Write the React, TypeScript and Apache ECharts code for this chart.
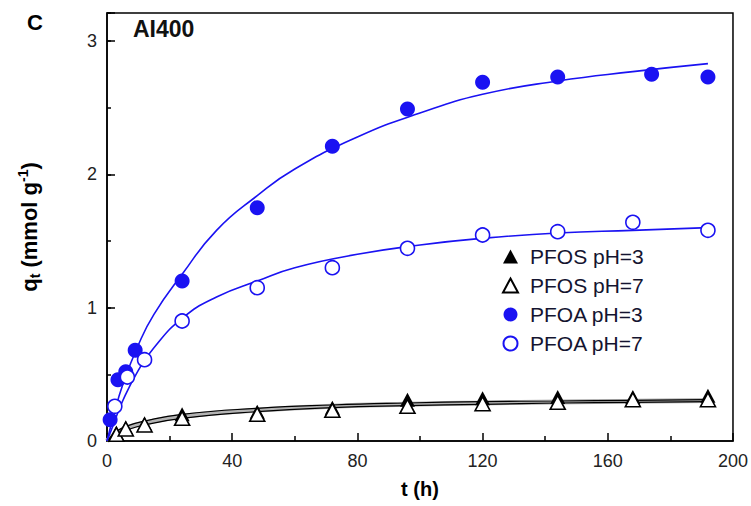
import React, { useEffect, useRef } from "react";
import * as echarts from "echarts";

// Measured points
const pfosPh3T = [3, 6, 12, 24, 48, 72, 96, 120, 144, 168, 192];
const pfosPh3Q = [0.06, 0.1, 0.13, 0.2, 0.22, 0.25, 0.31, 0.32, 0.33, 0.33, 0.34];
const pfosPh7T = [3, 6, 12, 24, 48, 72, 96, 120, 144, 168, 192];
const pfosPh7Q = [0.05, 0.09, 0.12, 0.17, 0.2, 0.23, 0.26, 0.28, 0.29, 0.31, 0.31];
const pfoaPh3T = [1, 3.5, 6, 9, 24, 48, 72, 96, 120, 144, 174, 192];
const pfoaPh3Q = [0.16, 0.46, 0.52, 0.68, 1.2, 1.75, 2.21, 2.49, 2.69, 2.73, 2.75, 2.73];
const pfoaPh7T = [2.5, 6.5, 12, 24, 48, 72, 96, 120, 144, 168, 192];
const pfoaPh7Q = [0.26, 0.48, 0.61, 0.9, 1.15, 1.3, 1.445, 1.545, 1.57, 1.64, 1.58];

// Fitted curves
const fitT = [0, 2, 5, 10, 15, 24, 35, 48, 60, 80, 100, 120, 144, 168, 192];
const fitPfoaPh3 = [0, 0.18, 0.42, 0.72, 0.95, 1.25, 1.58, 1.84, 2.04, 2.28, 2.46, 2.6, 2.7, 2.77, 2.83];
const fitPfoaPh7 = [0, 0.12, 0.3, 0.53, 0.7, 0.92, 1.08, 1.2, 1.3, 1.4, 1.47, 1.52, 1.56, 1.58, 1.6];
const fitPfosT = [0, 3, 6, 12, 24, 48, 72, 96, 120, 144, 168, 192];
const fitPfosPh3 = [0, 0.07, 0.11, 0.15, 0.2, 0.245, 0.27, 0.285, 0.295, 0.3, 0.305, 0.31];
const fitPfosPh7 = [0, 0.05, 0.08, 0.12, 0.17, 0.22, 0.25, 0.265, 0.275, 0.285, 0.29, 0.295];
const fitPfosBand = [0, 0.06, 0.095, 0.135, 0.185, 0.232, 0.26, 0.275, 0.285, 0.293, 0.298, 0.303];

const xTicks = [0, 40, 80, 120, 160, 200];
const yTicks = [0, 1, 2, 3];

const BLUE = "#1a12f2";
const FONT = "Liberation Sans, Arial, sans-serif";

const zip = (a: number[], b: number[]) => a.map((v, i) => [v, b[i]]);

export default function App() {
  const ref = useRef<HTMLDivElement>(null);
  useEffect(() => {
    document.body.style.margin = "0";
    const chart = echarts.init(ref.current!, null, { renderer: "svg" });
    const lineBase = (name: string, data: number[][], color: string, width: number, z = 2) => ({
      name,
      type: "line",
      data,
      smooth: true,
      showSymbol: false,
      symbol: "none",
      lineStyle: { color, width },
      z,
      silent: true,
    });
    const bold = { fontWeight: "bold", color: "#000", fontFamily: FONT };
    chart.setOption({
      animation: false,
      backgroundColor: "#fff",
      textStyle: { fontFamily: FONT },
      grid: {
        left: 107,
        right: 15,
        top: 13,
        bottom: 65,
        show: true,
        borderColor: "#000",
        borderWidth: 1.5,
        backgroundColor: "transparent",
      },
      legend: {
        orient: "vertical",
        left: 497,
        top: 241,
        itemGap: 8,
        itemWidth: 15,
        itemHeight: 14,
        textStyle: { fontSize: 21, color: "#141430", fontFamily: FONT, padding: [0, 0, 0, 7] },
        data: ["PFOS pH=3", "PFOS pH=7", "PFOA pH=3", "PFOA pH=7"],
      },
      graphic: [
        {
          type: "text",
          left: 27,
          top: 11,
          style: { text: "C", fontSize: 22, fontWeight: "bold", fill: "#000", fontFamily: FONT },
        },
        {
          type: "text",
          left: 133,
          top: 17,
          style: { text: "AI400", fontSize: 23, fontWeight: "bold", fill: "#111", fontFamily: FONT },
        },
      ],
      xAxis: {
        type: "value",
        min: 0,
        max: 200,
        interval: 40,
        name: "t (h)",
        nameLocation: "middle",
        nameGap: 38,
        nameTextStyle: { fontSize: 20, ...bold },
        axisLine: { lineStyle: { color: "#000", width: 1.5 } },
        axisTick: { inside: true, length: 8, lineStyle: { color: "#000", width: 1.5 } },
        minorTick: { show: true, splitNumber: 2, length: 5, lineStyle: { color: "#000", width: 1.5 } },
        splitLine: { show: false },
        axisLabel: {
          fontSize: 18,
          color: "#222",
          margin: 11,
          fontFamily: FONT,
          formatter: (v: number) => (xTicks.includes(v) ? String(v) : ""),
        },
      },
      yAxis: [
        {
          type: "value",
          min: 0,
          max: 3.21,
          interval: 1,
          name: "{q|q}{t|t}{r| (mmol g}{s|-1}{r|)}",
          nameLocation: "middle",
          nameGap: 65,
          nameRotate: 90,
          nameTextStyle: {
            fontFamily: FONT,
            rich: {
              q: { fontSize: 22, ...bold, lineHeight: 26, verticalAlign: "middle" },
              t: { fontSize: 14, ...bold, padding: [12, 0, 0, 0], verticalAlign: "middle" },
              r: { fontSize: 22, ...bold, verticalAlign: "middle" },
              s: { fontSize: 14, ...bold, padding: [0, 0, 12, 0], verticalAlign: "middle" },
            },
          },
          axisLine: { lineStyle: { color: "#000", width: 1.5 } },
          axisTick: { inside: true, length: 8, lineStyle: { color: "#000", width: 1.5 } },
          splitLine: { show: false },
          axisLabel: {
            fontSize: 18,
            color: "#222",
            margin: 10,
            fontFamily: FONT,
            formatter: (v: number) => (yTicks.includes(v) ? String(v) : ""),
          },
        },
        {
          type: "value",
          min: 0,
          max: 3.21,
          interval: 0.5,
          position: "left",
          axisLine: { show: false },
          axisTick: { inside: true, length: 4, lineStyle: { color: "#000", width: 1.5 } },
          axisLabel: { show: false },
          splitLine: { show: false },
        },
      ],
      series: [
        lineBase("bandPfos", zip(fitPfosT, fitPfosBand), "#b4b4b4", 5, 1),
        lineBase("fitPfos3", zip(fitPfosT, fitPfosPh3), "#000", 1.2, 2),
        lineBase("fitPfos7", zip(fitPfosT, fitPfosPh7), "#000", 1.2, 2),
        lineBase("fitPfoa3", zip(fitT, fitPfoaPh3), BLUE, 1.6, 2),
        lineBase("fitPfoa7", zip(fitT, fitPfoaPh7), BLUE, 1.6, 2),
        {
          name: "PFOS pH=3",
          type: "scatter",
          data: zip(pfosPh3T, pfosPh3Q),
          symbol: "triangle",
          symbolSize: [15, 14],
          itemStyle: { color: "#000", opacity: 1 },
          z: 3,
        },
        {
          name: "PFOS pH=7",
          type: "scatter",
          data: zip(pfosPh7T, pfosPh7Q),
          symbol: "triangle",
          symbolSize: [15, 14],
          itemStyle: { color: "#fff", borderColor: "#000", borderWidth: 1.6, opacity: 1 },
          z: 4,
        },
        {
          name: "PFOA pH=3",
          type: "scatter",
          data: zip(pfoaPh3T, pfoaPh3Q),
          symbol: "circle",
          symbolSize: 15,
          itemStyle: { color: BLUE, opacity: 1 },
          z: 3,
        },
        {
          name: "PFOA pH=7",
          type: "scatter",
          data: zip(pfoaPh7T, pfoaPh7Q),
          symbol: "circle",
          symbolSize: 14,
          itemStyle: { color: "#fff", borderColor: BLUE, borderWidth: 1.6, opacity: 1 },
          z: 4,
        },
      ],
    });
    return () => chart.dispose();
  }, []);
  return <div ref={ref} style={{ width: 751, height: 506 }} />;
}
